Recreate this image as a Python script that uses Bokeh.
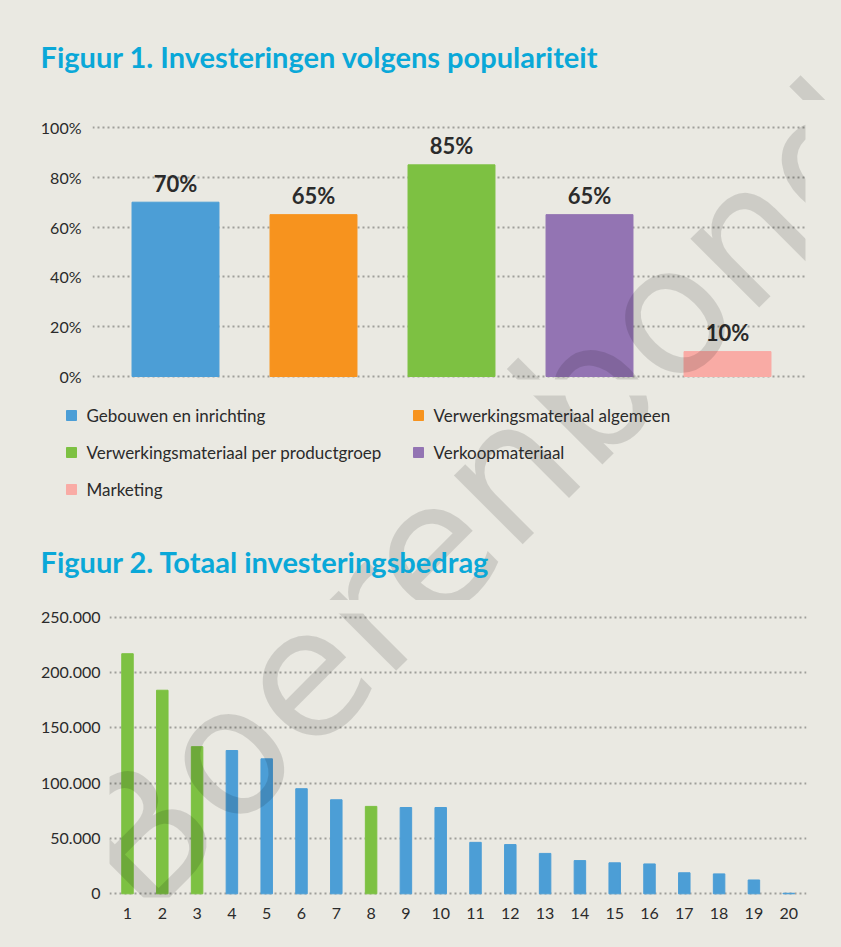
import math
from bokeh.plotting import figure
from bokeh.models import Range1d, FixedTicker, ColumnDataSource
from bokeh.core.properties import value
from bokeh.embed import file_html
from bokeh.resources import INLINE

# ---------------- data ----------------
fig1_title = "Figuur 1. Investeringen volgens populariteit"
fig1_categories = [
    "Gebouwen en inrichting",
    "Verwerkingsmateriaal algemeen",
    "Verwerkingsmateriaal per productgroep",
    "Verkoopmateriaal",
    "Marketing",
]
fig1_values = [70, 65, 85, 65, 10]
fig1_colors = ["#4C9ED6", "#F7931E", "#7DC142", "#9374B3", "#F9ABA5"]
fig1_ticks = [0, 20, 40, 60, 80, 100]
fig1_tick_labels = ["0%", "20%", "40%", "60%", "80%", "100%"]

fig2_title = "Figuur 2. Totaal investeringsbedrag"
fig2_ranks = [1, 2, 3, 4, 5, 6, 7, 8, 9, 10, 11, 12, 13, 14, 15, 16, 17, 18, 19, 20]
fig2_amounts = [217000, 184000, 133000, 129500, 122000, 95000, 85000, 79000, 78000, 78000,
                46500, 44500, 36500, 30000, 28000, 27000, 19000, 18000, 12500, 500]
# index into fig1_categories (0 = Gebouwen en inrichting, 2 = per productgroep)
fig2_groups = [2, 2, 2, 0, 0, 0, 0, 2, 0, 0, 0, 0, 0, 0, 0, 0, 0, 0, 0, 0]
fig2_ticks = [0, 50000, 100000, 150000, 200000, 250000]
fig2_tick_labels = ["0", "50.000", "100.000", "150.000", "200.000", "250.000"]
watermark_text = "Boerenbond"

# ---------------- style ----------------
BG = "#EAE9E2"
TITLE_COLOR = "#0AA8D8"
TEXT_COLOR = "#2B2B2B"
GRID_COLOR = "#9F9F9A"
NUM_FONT = "Lato"
W = 841

# page-pixel -> data helpers for the two charts
def a_x(px):
    return 1 + (px - 175) / 138.0

def a_y(py):
    return (376 - py) / 2.49

def b_x(px):
    return 1 + (px - 127) / 34.8

def b_y(py):
    return (893.3 - py) / 276.6 * 250000

ident = lambda v: v


def style_fig(p):
    p.background_fill_color = BG
    p.border_fill_color = BG
    p.outline_line_color = None


def add_watermark(p, fx, fy):
    p.text(x=[fx(100)], y=[fy(879)], text=[watermark_text], angle=math.pi / 4,
           text_font=value("DejaVu Sans"), text_font_size="178px",
           text_align="left", text_baseline="middle",
           text_color="#000000", text_alpha=0.12)


def add_title(p, fx, fy, px, py, txt):
    p.text(x=[fx(px)], y=[fy(py)], text=[txt], text_font=value(NUM_FONT),
           text_font_style="bold", text_font_size="29px", text_color=TITLE_COLOR,
           text_align="left", text_baseline="middle")


def style_grid(p, ticks):
    p.xgrid.visible = False
    p.ygrid.ticker = FixedTicker(ticks=ticks)
    p.ygrid.grid_line_color = GRID_COLOR
    p.ygrid.grid_line_width = 2
    p.ygrid.grid_line_dash = "2 3"


def style_axis(ax, size):
    ax.axis_line_color = None
    ax.major_tick_line_color = None
    ax.minor_tick_line_color = None
    ax.major_tick_out = 0
    ax.major_tick_in = 0
    ax.major_label_text_font = NUM_FONT
    ax.major_label_text_font_size = size
    ax.major_label_text_color = TEXT_COLOR


def strip(top, h):
    p = figure(width=W, height=h, output_backend="svg", toolbar_location=None,
               x_axis_location=None, y_axis_location=None,
               x_range=Range1d(0, W), y_range=Range1d(top + h, top), min_border=0)
    style_fig(p)
    p.xgrid.visible = False
    p.ygrid.visible = False
    return p

# ---------------- title strip 1 ----------------
T1_H = 100
pt = strip(0, T1_H)
add_watermark(pt, ident, ident)
add_title(pt, ident, ident, 40, 56, fig1_title)

# ---------------- figure 1 ----------------
A_TOP, A_H = T1_H, 295
pa = figure(width=W, height=A_H, output_backend="svg", toolbar_location=None,
            x_axis_location=None,
            x_range=Range1d(a_x(92), a_x(805)), y_range=Range1d(a_y(379), a_y(124)),
            min_border_left=92, min_border_right=W - 805,
            min_border_top=124 - A_TOP, min_border_bottom=A_TOP + A_H - 379)
style_fig(pa)
style_grid(pa, fig1_ticks)
style_axis(pa.yaxis[0], "16px")
pa.yaxis.ticker = FixedTicker(ticks=fig1_ticks)
pa.yaxis.major_label_overrides = {t: l for t, l in zip(fig1_ticks, fig1_tick_labels)}
pa.yaxis.major_label_standoff = 11

src1 = ColumnDataSource(dict(
    x=list(range(1, len(fig1_values) + 1)),
    top=fig1_values,
    label_y=[v + 19 / 2.49 for v in fig1_values],
    color=fig1_colors,
    label=[f"{v}%" for v in fig1_values],
))
pa.vbar(x="x", top="top", bottom=0, width=0.63, color="color", source=src1)
pa.text(x="x", y="label_y", text="label", source=src1, text_align="center",
        text_baseline="middle", text_color=TEXT_COLOR,
        text_font=value(NUM_FONT), text_font_style="bold", text_font_size="22px")
add_watermark(pa, a_x, a_y)

# ---------------- legend strip + title 2 ----------------
L_TOP, L_H = A_TOP + A_H, 205
pl = strip(L_TOP, L_H)
col_x = [66, 413]
row_y = [415, 452, 489]
leg = ColumnDataSource(dict(
    sx=[col_x[i % 2] + 5 for i in range(len(fig1_categories))],
    sy=[row_y[i // 2] for i in range(len(fig1_categories))],
    tx=[col_x[i % 2] + 20 for i in range(len(fig1_categories))],
    ty=[row_y[i // 2] for i in range(len(fig1_categories))],
    name=fig1_categories,
    color=fig1_colors,
))
add_watermark(pl, ident, ident)
pl.rect(x="sx", y="sy", width=10, height=10, color="color", source=leg)
pl.text(x="tx", y="ty", text="name", source=leg, text_align="left",
        text_baseline="middle", text_color=TEXT_COLOR,
        text_font=value(NUM_FONT), text_font_size="17px")
add_title(pl, ident, ident, 40, 561, fig2_title)

# ---------------- figure 2 ----------------
B_TOP = L_TOP + L_H
B_H = 947 - B_TOP
pb = figure(width=W, height=B_H, output_backend="svg", toolbar_location=None,
            x_range=Range1d(b_x(109), b_x(806)), y_range=Range1d(b_y(897), b_y(613)),
            min_border_left=109, min_border_right=W - 806,
            min_border_top=613 - B_TOP, min_border_bottom=B_TOP + B_H - 897)
style_fig(pb)
style_grid(pb, fig2_ticks)
style_axis(pb.yaxis[0], "16px")
style_axis(pb.xaxis[0], "16px")
pb.yaxis.ticker = FixedTicker(ticks=fig2_ticks)
pb.yaxis.major_label_overrides = {t: l for t, l in zip(fig2_ticks, fig2_tick_labels)}
pb.yaxis.major_label_standoff = 9
pb.xaxis.ticker = FixedTicker(ticks=fig2_ranks)
pb.xaxis.major_label_standoff = 10

src2 = ColumnDataSource(dict(
    x=fig2_ranks,
    top=fig2_amounts,
    color=[fig1_colors[g] for g in fig2_groups],
))
pb.vbar(x="x", top="top", bottom=0, width=0.33, color="color", source=src2)
add_watermark(pb, b_x, b_y)

html = file_html([pt, pa, pl, pb], INLINE)
html = html.replace("<head>", "<head><style>html, body { background: %s; }</style>" % BG, 1)
open("out.html", "w").write(html)
